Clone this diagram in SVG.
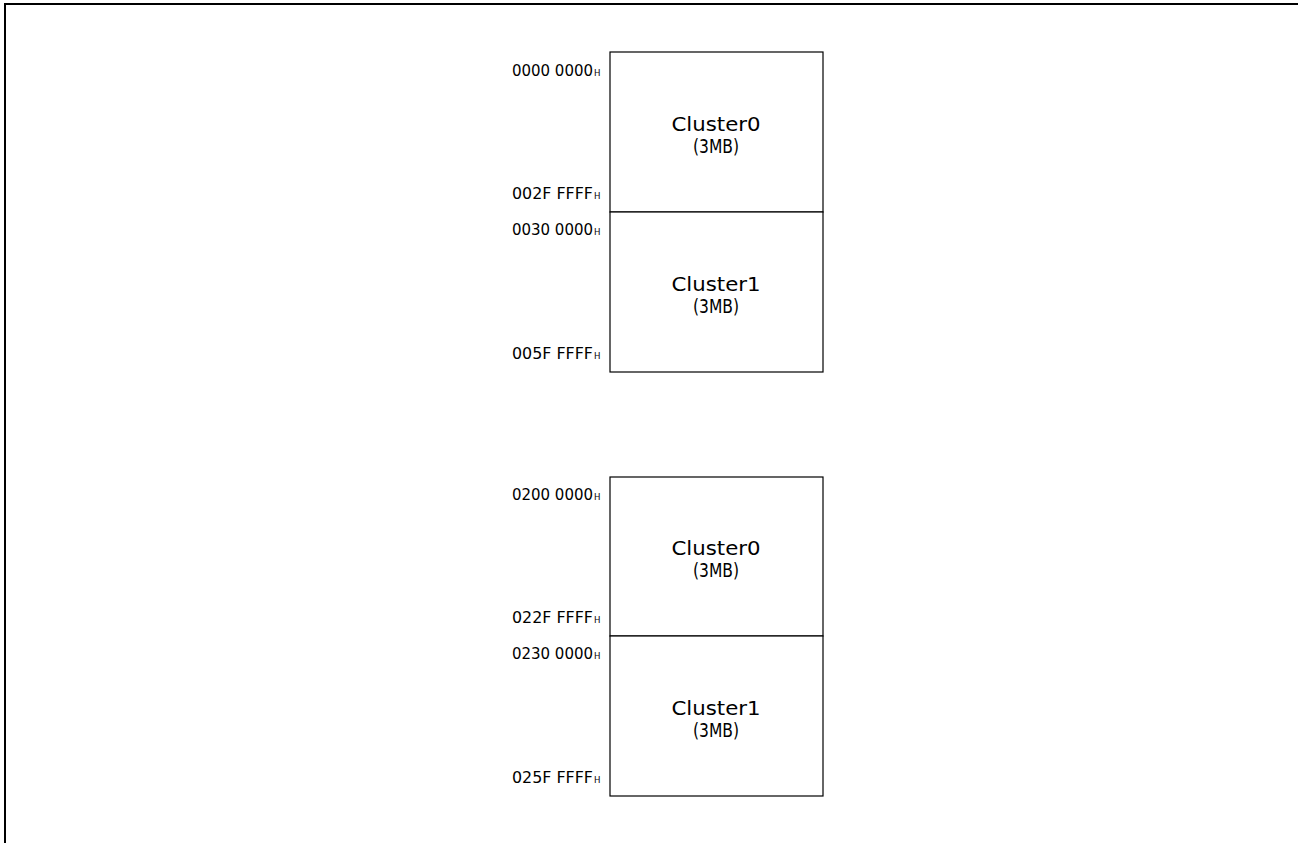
<svg xmlns="http://www.w3.org/2000/svg" width="1298" height="843" viewBox="0 0 1298 843">
<style>
.box{fill:#fff;stroke:#000;stroke-width:1.2}
.addr{font-family:"DejaVu Sans Condensed","Liberation Sans",sans-serif;font-size:16px;fill:#000}
.sub{font-size:9.5px}
.lbl{font-family:"DejaVu Sans Condensed","Liberation Sans",sans-serif;font-size:20px;fill:#000;text-anchor:middle}
</style>
<rect width="1298" height="843" fill="#fff"/>
<path d="M5,843 V4 H1298" fill="none" stroke="#000" stroke-width="2"/>
<g id="map1">
<g id="m1c0">
<rect class="box" x="610" y="52" width="213" height="160"/>
<text class="lbl" x="716" y="131" textLength="89" lengthAdjust="spacingAndGlyphs">Cluster0</text>
<text class="lbl" x="716" y="153" textLength="46" lengthAdjust="spacingAndGlyphs">(3MB)</text>
</g>
<g id="m1c1">
<rect class="box" x="610" y="212" width="213" height="160"/>
<text class="lbl" x="716" y="291" textLength="89" lengthAdjust="spacingAndGlyphs">Cluster1</text>
<text class="lbl" x="716" y="313" textLength="46" lengthAdjust="spacingAndGlyphs">(3MB)</text>
</g>
<g id="m1addr">
<text class="addr" x="512" y="76"><tspan textLength="81" lengthAdjust="spacingAndGlyphs">0000 0000</tspan><tspan class="sub" dx="1">H</tspan></text>
<text class="addr" x="512" y="199"><tspan textLength="81" lengthAdjust="spacingAndGlyphs">002F FFFF</tspan><tspan class="sub" dx="1">H</tspan></text>
<text class="addr" x="512" y="235"><tspan textLength="81" lengthAdjust="spacingAndGlyphs">0030 0000</tspan><tspan class="sub" dx="1">H</tspan></text>
<text class="addr" x="512" y="359"><tspan textLength="81" lengthAdjust="spacingAndGlyphs">005F FFFF</tspan><tspan class="sub" dx="1">H</tspan></text>
</g>
</g>
<g id="map2">
<g id="m2c0">
<rect class="box" x="610" y="477" width="213" height="159"/>
<text class="lbl" x="716" y="555" textLength="89" lengthAdjust="spacingAndGlyphs">Cluster0</text>
<text class="lbl" x="716" y="577" textLength="46" lengthAdjust="spacingAndGlyphs">(3MB)</text>
</g>
<g id="m2c1">
<rect class="box" x="610" y="636" width="213" height="160"/>
<text class="lbl" x="716" y="715" textLength="89" lengthAdjust="spacingAndGlyphs">Cluster1</text>
<text class="lbl" x="716" y="737" textLength="46" lengthAdjust="spacingAndGlyphs">(3MB)</text>
</g>
<g id="m2addr">
<text class="addr" x="512" y="500"><tspan textLength="81" lengthAdjust="spacingAndGlyphs">0200 0000</tspan><tspan class="sub" dx="1">H</tspan></text>
<text class="addr" x="512" y="623"><tspan textLength="81" lengthAdjust="spacingAndGlyphs">022F FFFF</tspan><tspan class="sub" dx="1">H</tspan></text>
<text class="addr" x="512" y="659"><tspan textLength="81" lengthAdjust="spacingAndGlyphs">0230 0000</tspan><tspan class="sub" dx="1">H</tspan></text>
<text class="addr" x="512" y="783"><tspan textLength="81" lengthAdjust="spacingAndGlyphs">025F FFFF</tspan><tspan class="sub" dx="1">H</tspan></text>
</g>
</g>
</svg>
